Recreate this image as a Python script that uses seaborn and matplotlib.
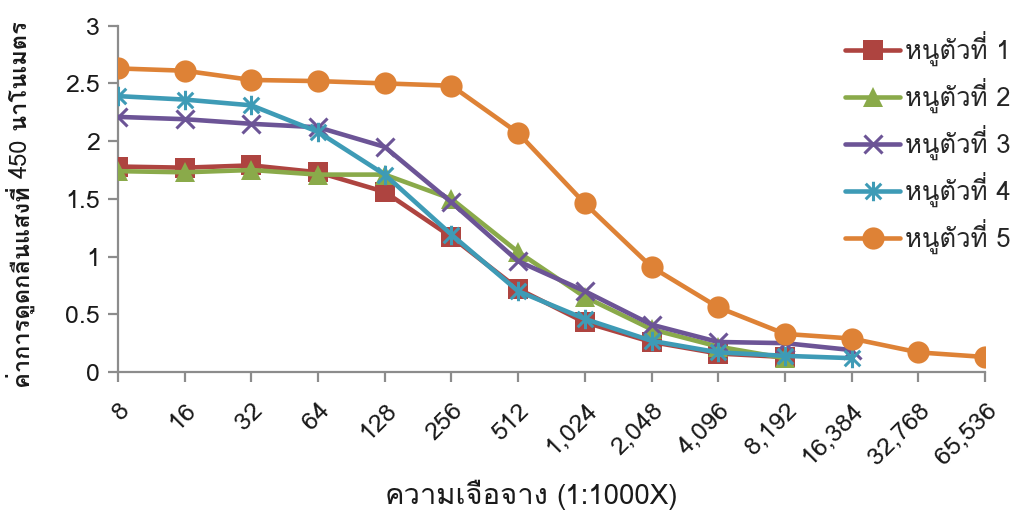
import numpy as np
import pandas as pd
import matplotlib
matplotlib.use("Agg")
import matplotlib.pyplot as plt
from matplotlib import font_manager
from matplotlib.ft2font import FT2Font
from matplotlib.path import Path
import seaborn as sns

# ---------------- data ----------------
dilutions = ["8", "16", "32", "64", "128", "256", "512", "1,024", "2,048",
             "4,096", "8,192", "16,384", "32,768", "65,536"]
series_names = ["หนูตัวที่ 1", "หนูตัวที่ 2", "หนูตัวที่ 3", "หนูตัวที่ 4", "หนูตัวที่ 5"]
mouse1 = [1.78, 1.77, 1.79, 1.73, 1.56, 1.17, 0.72, 0.43, 0.26, 0.16, 0.13]
mouse2 = [1.74, 1.73, 1.75, 1.71, 1.71, 1.50, 1.04, 0.65, 0.37, 0.22, 0.12]
mouse3 = [2.21, 2.19, 2.15, 2.12, 1.95, 1.47, 0.96, 0.70, 0.41, 0.26, 0.25, 0.19]
mouse4 = [2.39, 2.36, 2.31, 2.08, 1.71, 1.19, 0.70, 0.46, 0.27, 0.17, 0.14, 0.12]
mouse5 = [2.63, 2.61, 2.53, 2.52, 2.50, 2.48, 2.07, 1.46, 0.91, 0.56, 0.33, 0.29, 0.17, 0.13]
y_ticks = [0, 0.5, 1, 1.5, 2, 2.5, 3]
y_tick_labels = ["0", "0.5", "1", "1.5", "2", "2.5", "3"]
y_label_parts = ["ค่าการดูดกลืนแสงที่ ", "450", " นาโนเมตร"]
x_label_parts = ["ความเจือจาง", "(1:1000X)"]

# ---------------- fonts ----------------
sns.set_theme(style="white")
thai_fonts = []
for f in font_manager.fontManager.ttflist:
    try:
        cmap = FT2Font(f.fname).get_charmap()
        if 0x0E2B in cmap and 0x0E39 in cmap and f.name not in thai_fonts:
            thai_fonts.append(f.name)
    except Exception:
        pass
families = thai_fonts[:1] + ["Roboto", "DejaVu Sans"]
plt.rcParams["font.family"] = families

# ---------------- frame ----------------
rows = []
for name, vals in zip(series_names, [mouse1, mouse2, mouse3, mouse4, mouse5]):
    for i, v in enumerate(vals):
        rows.append({"series": name, "pos": i, "value": v})
df = pd.DataFrame(rows)

colors = ["#AE4440", "#8AAA4A", "#6C5496", "#3E9BB6", "#DE8236"]
star = Path([(-1, -1), (1, 1), (-1, 1), (1, -1), (0, -1.25), (0, 1.25)],
            [Path.MOVETO, Path.LINETO, Path.MOVETO, Path.LINETO, Path.MOVETO, Path.LINETO])
markers = ["s", "^", "x", star, "o"]
msizes = [14, 15, 13, 14, 16]

fig = plt.figure(figsize=(10.12, 5.11), dpi=100)
ax = fig.add_axes([118 / 1012, 1 - 372 / 511, (985 - 118) / 1012, (372 - 25.7) / 511])

for name, c, m, ms in zip(series_names, colors, markers, msizes):
    sub = df[df["series"] == name]
    filled = m in ("s", "^", "o")
    sns.lineplot(data=sub, x="pos", y="value", ax=ax, color=c, lw=3.3,
                 marker=m, markersize=ms,
                 markeredgecolor=c,
                 markerfacecolor=c if filled else "none",
                 markeredgewidth=0 if filled else 2.2,
                 label=name, legend=False, zorder=3)

ax.set_xlim(0, len(dilutions) - 1)
ax.set_ylim(0, 3)
ax.set_xticks(range(len(dilutions)))
ax.set_xticklabels(dilutions, rotation=45, ha="right", va="top",
                   rotation_mode="anchor", fontsize=18, color="#1a1a1a")
ax.set_yticks(y_ticks)
ax.set_yticklabels(y_tick_labels, fontsize=18, color="#1a1a1a")

for s in ["top", "right"]:
    ax.spines[s].set_visible(False)
for s in ["left", "bottom"]:
    ax.spines[s].set_color("#8C8C8C")
    ax.spines[s].set_linewidth(1.6)
ax.tick_params(axis="both", which="major", direction="out", length=7,
               width=1.6, color="#8C8C8C", bottom=True, left=True)
ax.tick_params(axis="x", pad=12)
ax.tick_params(axis="y", pad=6)
ax.grid(False)
ax.set_xlabel("")
ax.set_ylabel("")

# y label: bold Thai, regular number
t1 = ax.text(-0.113, -0.046, y_label_parts[0], transform=ax.transAxes, rotation=90,
             ha="center", va="bottom", fontsize=17, fontweight="bold", color="#1a1a1a")
t2 = ax.annotate(y_label_parts[1], xy=(0.5, 1.0), xycoords=t1, rotation=90,
                 ha="center", va="bottom", fontsize=17, color="#1a1a1a")
t3 = ax.annotate(y_label_parts[2], xy=(0.5, 1.0), xycoords=t2, rotation=90,
                 ha="center", va="bottom", fontsize=17, fontweight="bold", color="#1a1a1a")

# x label: Thai word + "(1:1000X)"
xl1 = fig.text(385 / 1012, 1 - 504 / 511, x_label_parts[0], ha="left", va="baseline",
               fontsize=21, color="#1a1a1a")
renderer = fig.canvas.get_renderer()
bb = xl1.get_window_extent(renderer=renderer)
fig.text((bb.x1 + 7) / 1012, 1 - 504 / 511, x_label_parts[1], ha="left",
         va="baseline", fontsize=20, color="#1a1a1a")

handles, labels = ax.get_legend_handles_labels()
leg = ax.legend(handles, labels, loc="upper left", bbox_to_anchor=(0.8385, 0.985),
                frameon=False, fontsize=18.5, handlelength=2.15, handletextpad=0.2,
                labelspacing=0.46, borderaxespad=0, borderpad=0)

fig.savefig("out.png", dpi=100)
